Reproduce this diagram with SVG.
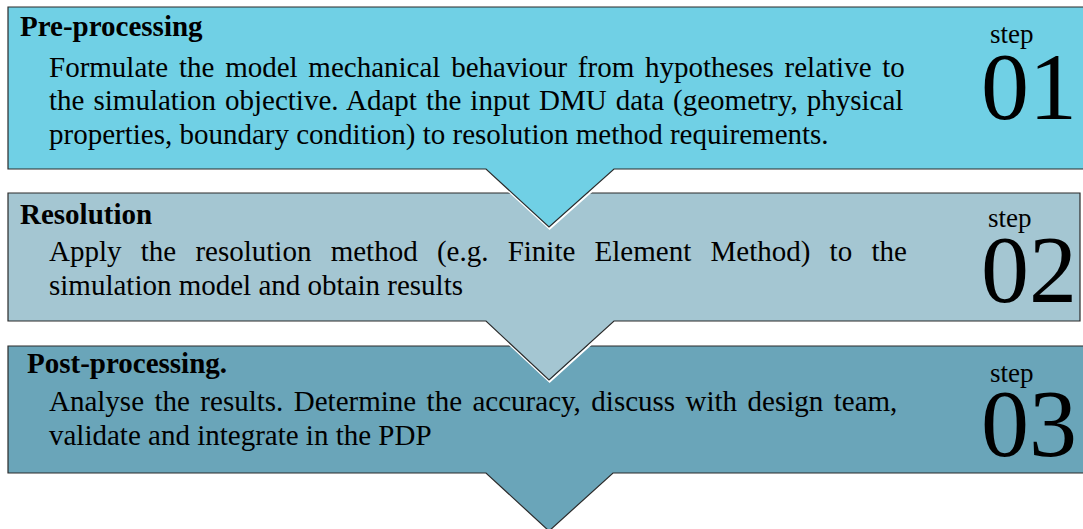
<svg xmlns="http://www.w3.org/2000/svg" width="1083" height="529" viewBox="0 0 1083 529">
<style>
.shape{stroke:#2b2b2b;stroke-width:1.2;stroke-linejoin:miter}
.halo{fill:none;stroke:#ffffff;stroke-width:2.2}
.title{font-family:"Liberation Serif","Times New Roman",serif;font-size:29px;font-weight:bold;fill:#000}
.body{font-family:"Liberation Serif","Times New Roman",serif;font-size:29px;fill:#000}
.step{font-family:"Liberation Serif","Times New Roman",serif;font-size:27px;fill:#000}
.num{font-family:"Liberation Serif","Times New Roman",serif;font-size:96px;fill:#000}
</style>
<rect width="1083" height="529" fill="#ffffff"/>
<g id="connectors"></g>
<g id="step03">
<polygon class="halo" transform="translate(0.6,1.6)" points="8,346 1095,346 1095,473 613,473 549,531 486,473 8,473"/>
<polygon class="shape" fill="#6aa5b9" points="8,346 1095,346 1095,473 613,473 549,531 486,473 8,473"/>
<text class="title" x="27" y="373">Post-processing.</text>
<text class="body" x="49" y="411" word-spacing="3.2">Analyse the results. Determine the accuracy, discuss with design team,</text>
<text class="body" x="49" y="445">validate and integrate in the PDP</text>
<text class="step" x="990" y="382">step</text>
<text class="num" x="981" y="456">03</text>
</g>
<g id="step02">
<polygon class="halo" transform="translate(0.6,1.6)" points="8,193 1080,193 1080,321 614,321 549,380 486,321 8,321"/>
<polygon class="shape" fill="#a4c6d2" points="8,193 1080,193 1080,321 614,321 549,380 486,321 8,321"/>
<text class="title" x="20" y="224">Resolution</text>
<text class="body" x="49" y="261" word-spacing="12">Apply the resolution method (e.g. Finite Element Method) to the</text>
<text class="body" x="49" y="295">simulation model and obtain results</text>
<text class="step" x="988" y="227">step</text>
<text class="num" x="981" y="302">02</text>
</g>
<g id="step01">
<polygon class="halo" transform="translate(0.6,1.6)" points="8,7 1095,7 1095,169 614,169 549,227 486,169 8,169"/>
<polygon class="shape" fill="#70d0e5" points="8,7 1095,7 1095,169 614,169 549,227 486,169 8,169"/>
<text class="title" x="20" y="36">Pre-processing</text>
<text class="body" x="49" y="77" word-spacing="3.5">Formulate the model mechanical behaviour from hypotheses relative to</text>
<text class="body" x="49" y="110" word-spacing="1.8">the simulation objective. Adapt the input DMU data (geometry, physical</text>
<text class="body" x="49" y="144">properties, boundary condition) to resolution method requirements.</text>
<text class="step" x="990" y="43">step</text>
<text class="num" x="981" y="119">01</text>
</g>
</svg>
